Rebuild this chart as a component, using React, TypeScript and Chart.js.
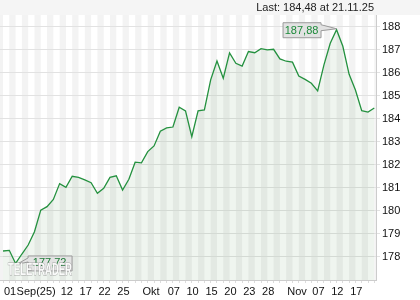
import React, { useEffect, useRef } from 'react';
import { Chart, registerables } from 'chart.js';

Chart.register(...registerables);

// Daily closes, 01.09.25 – 21.11.25 (60 trading days)
const values: number[] = [
  178.26, 178.29, 177.72, 178.13, 178.52, 179.10, 180.04, 180.19, 180.50, 181.19,
  181.03, 181.51, 181.46, 181.35, 181.23, 180.77, 180.99, 181.46, 181.53, 180.91,
  181.38, 182.12, 182.09, 182.58, 182.83, 183.47, 183.61, 183.65, 184.51, 184.35,
  183.23, 184.35, 184.39, 185.70, 186.52, 185.77, 186.87, 186.42, 186.30, 186.93,
  186.88, 187.06, 187.00, 187.03, 186.61, 186.51, 186.47, 185.87, 185.72, 185.55,
  185.22, 186.35, 187.29, 187.88, 187.16, 185.94, 185.26, 184.36, 184.30, 184.48,
];

const tickIdx: number[] = [0, 2, 9, 12, 15, 18, 22, 26, 29, 32, 35, 38, 41, 45, 49, 52, 55];
const tickText: string[] = ['01', 'Sep(25)', '12', '17', '22', '25', 'Okt', '07', '10', '15', '20', '23', '28', 'Nov', '07', '12', '17'];
const yTicks: number[] = [178, 179, 180, 181, 182, 183, 184, 185, 186, 187, 188];
const lastDate = '21.11.25';

const fmt = (v: number) => v.toFixed(2).replace('.', ',');
const FONT = 'Liberation Sans, Arial, sans-serif';

const bgPlugin = {
  id: 'bgStripes',
  beforeDraw(chart: any) {
    const { ctx, chartArea: a, scales } = chart;
    const x = scales.x;
    ctx.save();
    ctx.fillStyle = '#ffffff';
    ctx.fillRect(0, 0, chart.width, chart.height);
    ctx.fillStyle = '#f5f5f5';
    ctx.fillRect(0, 0, chart.width, a.top);
    ctx.beginPath();
    ctx.rect(a.left, a.top, a.right - a.left, a.bottom - a.top);
    ctx.clip();
    ctx.fillStyle = '#f3f3f3';
    for (let k = -1; k < values.length; k++) {
      if (Math.abs(k % 2) === 1) {
        const x0 = x.getPixelForValue(k);
        const x1 = x.getPixelForValue(k + 1);
        ctx.fillRect(x0, a.top, x1 - x0, a.bottom - a.top);
      }
    }
    ctx.restore();
  },
};

const notesPlugin = {
  id: 'notes',
  afterDatasetsDraw(chart: any) {
    const { ctx, chartArea: a, scales } = chart;
    const x = scales.x;
    const y = scales.y;
    let minI = 0;
    let maxI = 0;
    values.forEach((v, i) => {
      if (v < values[minI]) minI = i;
      if (v > values[maxI]) maxI = i;
    });
    ctx.save();
    ctx.font = `11px ${FONT}`;
    ctx.textBaseline = 'middle';

    // title
    ctx.fillStyle = '#222';
    ctx.textAlign = 'right';
    ctx.fillText(`Last: ${fmt(values[values.length - 1])} at ${lastDate}`, a.right - 2, 8);

    // max callout
    {
      const px = x.getPixelForValue(maxI);
      const py = y.getPixelForValue(values[maxI]);
      const w = 38, h = 15;
      const right = px - 16;
      const left = right - w;
      const top = py - 7.5;
      ctx.fillStyle = '#e2e2e2';
      ctx.strokeStyle = '#9a9a9a';
      ctx.lineWidth = 1;
      ctx.beginPath();
      ctx.moveTo(left + 0.5, top + 0.5);
      ctx.lineTo(right + 0.5, top + 0.5);
      ctx.lineTo(right + 0.5, top + 2.5);
      ctx.lineTo(px, py - 1);
      ctx.lineTo(right + 0.5, top + 8.5);
      ctx.lineTo(right + 0.5, top + h + 0.5);
      ctx.lineTo(left + 0.5, top + h + 0.5);
      ctx.closePath();
      ctx.fill();
      ctx.stroke();
      ctx.fillStyle = '#1d8a3a';
      ctx.textAlign = 'center';
      ctx.fillText(fmt(values[maxI]), (left + right) / 2, top + h / 2 + 1);
    }

    // min callout
    {
      const px = x.getPixelForValue(minI);
      const py = y.getPixelForValue(values[minI]);
      const w = 44, h = 15;
      const left = px + 12;
      const right = left + w;
      const top = py - 8;
      ctx.fillStyle = 'rgba(226,226,226,0.9)';
      ctx.strokeStyle = '#9a9a9a';
      ctx.beginPath();
      ctx.moveTo(left + 0.5, top + 0.5);
      ctx.lineTo(right + 0.5, top + 0.5);
      ctx.lineTo(right + 0.5, top + h + 0.5);
      ctx.lineTo(left + 0.5, top + h + 0.5);
      ctx.lineTo(left + 0.5, top + 6.5);
      ctx.lineTo(px + 1, py + 1);
      ctx.lineTo(left + 0.5, top + 2.5);
      ctx.closePath();
      ctx.fill();
      ctx.stroke();
      ctx.fillStyle = '#1d7a36';
      ctx.textAlign = 'center';
      ctx.fillText(fmt(values[minI]), (left + right) / 2, top + h / 2);
    }

    // watermark
    ctx.font = `bold 16px ${FONT}`;
    ctx.textAlign = 'left';
    ctx.textBaseline = 'middle';
    const wm = 'TELETRADER';
    const tw = ctx.measureText(wm).width;
    const sx = 64 / tw;
    ctx.translate(a.left + 8, 270.5);
    ctx.scale(sx, 1);
    ctx.fillStyle = 'rgba(255,255,255,0.9)';
    ctx.strokeStyle = 'rgba(140,140,140,0.7)';
    ctx.lineWidth = 1;
    ctx.strokeText(wm, 0, 0);
    ctx.fillText(wm, 0, 0);
    ctx.restore();
  },
};

export default function App() {
  const ref = useRef<HTMLCanvasElement | null>(null);

  useEffect(() => {
    if (!ref.current) return;
    const chart = new Chart(ref.current, {
      type: 'line',
      data: {
        datasets: [
          {
            data: values.map((v, i) => ({ x: i, y: v })),
            borderColor: '#24913f',
            borderWidth: 1.3,
            backgroundColor: 'rgba(40,125,40,0.075)',
            fill: 'start',
            pointRadius: 0,
            tension: 0,
          },
        ],
      },
      options: {
        animation: false,
        responsive: false,
        layout: { padding: { top: 15, left: 0, right: 0, bottom: 0 } },
        plugins: {
          legend: { display: false },
          tooltip: { enabled: false },
        },
        scales: {
          x: {
            type: 'linear',
            min: -0.477,
            max: 59.27,
            afterBuildTicks: (s: any) => {
              s.ticks = values.map((_, i) => ({ value: i }));
            },
            afterFit: (s: any) => {
              s.height = 20;
            },
            ticks: {
              autoSkip: false,
              maxRotation: 0,
              minRotation: 0,
              align: 'start',
              labelOffset: 1,
              padding: 2,
              color: '#111',
              font: { family: FONT, size: 11 },
              callback: (v: any) => {
                const j = tickIdx.indexOf(Number(v));
                return j >= 0 ? tickText[j] : '';
              },
            },
            grid: { drawOnChartArea: false, drawTicks: true, tickLength: 3, color: '#dcdcdc' },
            border: { color: '#cccccc' },
          },
          y: {
            position: 'right',
            min: 177,
            max: 188.52,
            afterBuildTicks: (s: any) => {
              s.ticks = yTicks.map((v) => ({ value: v }));
            },
            afterFit: (s: any) => {
              s.width = 44;
            },
            ticks: {
              padding: 2,
              color: '#111',
              font: { family: FONT, size: 11 },
              callback: (v: any) => String(v),
            },
            grid: { color: '#e2e2e2', tickLength: 4 },
            border: { color: '#cccccc' },
          },
        },
      },
      plugins: [bgPlugin, notesPlugin],
    } as any);
    return () => chart.destroy();
  }, []);

  return (
    <div style={{ position: 'absolute', left: 0, top: 0, width: 420, height: 300 }}>
      <canvas ref={ref} width={420} height={300} />
    </div>
  );
}
